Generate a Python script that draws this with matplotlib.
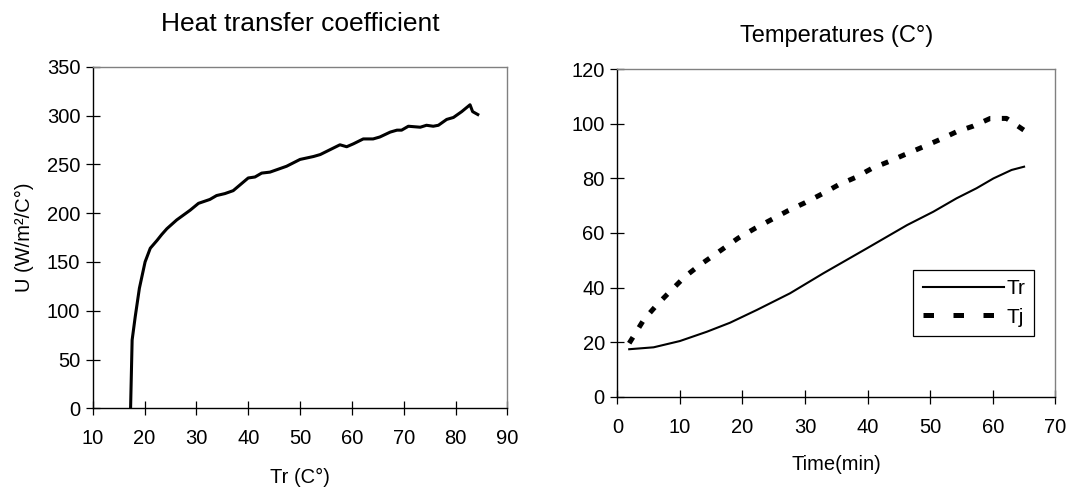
import matplotlib
matplotlib.use("Agg")
import matplotlib.pyplot as plt
from matplotlib.lines import Line2D

plt.rcParams['font.family'] = ['Liberation Sans', 'DejaVu Sans']

# heat transfer coefficient vs reactor temperature
tr_u = [17.3, 17.6, 18.2, 19.0, 20.1, 21.1, 22.4, 23.3, 24.3, 26.2, 28.8, 30.4,
        32.6, 33.9, 35.5, 37.1, 40.0, 41.3, 42.6, 44.2, 47.4, 50.0, 52.6, 53.9,
        57.7, 59.0, 60.3, 62.2, 64.1, 65.4, 67.4, 68.7, 69.6, 70.9, 73.2, 74.4,
        75.7, 76.7, 78.3, 79.6, 81.2, 82.8, 83.3, 84.3]
u = [0, 70, 94, 123, 150, 164, 172, 178, 184, 193, 203, 210,
     214, 218, 220, 223, 236, 237, 241, 242, 248, 255, 258, 260,
     270, 268, 271, 276, 276, 278, 283, 285, 285, 289, 288, 290,
     289, 290, 296, 298, 304, 311, 304, 301]

# temperatures vs time
t_r = [1.9, 5.8, 10.0, 14.3, 18.0, 22.3, 27.6, 32.9, 39.9, 46.3, 50.5, 54.2,
       57.4, 60.1, 63.0, 65.0]
tr = [17.4, 18.1, 20.4, 23.8, 27.1, 31.8, 37.9, 45.2, 54.4, 62.9, 67.8, 72.7,
      76.4, 80.0, 83.1, 84.3]
t_j = [1.9, 4.2, 6.3, 8.4, 10.8, 13.2, 15.9, 19.3, 22.0, 24.7, 27.3, 30.0,
       32.7, 35.3, 38.0, 40.7, 43.3, 46.0, 48.9, 51.6, 54.2, 56.9, 59.6, 62.2, 65.1]
tj = [19.6, 28.1, 33.6, 38.5, 44.0, 48.3, 52.6, 58.1, 61.7, 65.0, 68.2, 71.1,
      74.3, 77.6, 80.3, 83.7, 86.1, 88.8, 91.6, 94.3, 97.1, 99.2, 102.0, 102.0, 97.5]

fig = plt.figure(figsize=(10.71, 4.88), dpi=100)
ax1 = fig.add_axes([0.0866, 0.1633, 0.3871, 0.700])
ax2 = fig.add_axes([0.5764, 0.1871, 0.4090, 0.6709])


def style_axes(ax):
    for side in ('top', 'right'):
        ax.spines[side].set_color('#808080')
        ax.spines[side].set_linewidth(1.0)
    for side in ('left', 'bottom'):
        ax.spines[side].set_color('black')
        ax.spines[side].set_linewidth(1.0)
    ax.tick_params(direction='inout', length=10, width=0.9, labelsize=14.5,
                   color='black')
    ax.tick_params(axis='x', pad=10)
    ax.tick_params(axis='y', pad=4)


ax1.plot(tr_u, u, color='black', lw=2.2)
ax1.set_xlim(10, 90)
ax1.set_ylim(0, 350)
ax1.set_xticks(range(10, 91, 10))
ax1.set_yticks(range(0, 351, 50))
style_axes(ax1)
ax1.set_title("Heat transfer coefficient", fontsize=19, pad=26)
ax1.set_xlabel("Tr (C°)", fontsize=14.5, labelpad=14)
ax1.set_ylabel("U (W/m²/C°)", fontsize=14.5, labelpad=9)

ax2.plot(t_r, tr, color='black', lw=1.5)
ax2.plot(t_j, tj, color='black', lw=3.6, linestyle=(0, (1.4, 2.3)))
ax2.set_xlim(0, 70)
ax2.set_ylim(0, 120)
ax2.set_xticks(range(0, 71, 10))
ax2.set_yticks(range(0, 121, 20))
style_axes(ax2)
ax2.set_title("Temperatures (C°)", fontsize=17, pad=20)
ax2.set_xlabel("Time(min)", fontsize=14.5, labelpad=13)

handles = [Line2D([], [], color='black', lw=1.5),
           Line2D([], [], color='black', lw=3.6, linestyle=(0, (2.1, 3.9)))]
leg = ax2.legend(handles, ["Tr", "Tj"], loc='upper right',
                 bbox_to_anchor=(0.952, 0.387), borderaxespad=0,
                 fontsize=15, handlelength=3.9, handletextpad=0.1,
                 labelspacing=0.45, borderpad=0.45, fancybox=False,
                 edgecolor='black', framealpha=1)
leg.get_frame().set_linewidth(0.9)

fig.savefig("out.png", dpi=100)
